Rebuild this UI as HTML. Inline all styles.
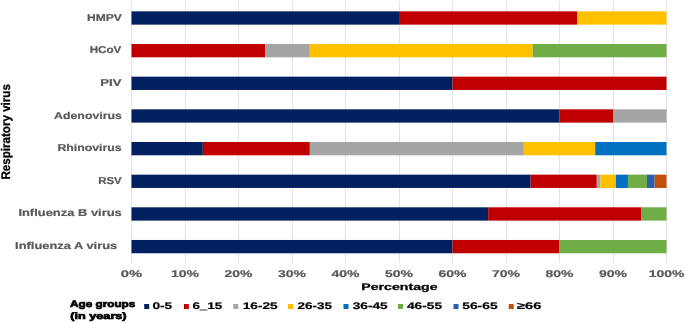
<!DOCTYPE html>
<html><head><meta charset="utf-8"><style>
html,body{margin:0;padding:0;background:#fff;width:685px;height:323px;overflow:hidden}
svg{display:block;will-change:transform}
text{font-family:"Liberation Sans",sans-serif;font-weight:bold;text-rendering:geometricPrecision}
.yl{font-size:10px;fill:#595959;stroke:#595959;stroke-width:0.2px}
.xl{font-size:9.8px;fill:#595959;stroke:#595959;stroke-width:0.2px}
.xt{font-size:9.5px;fill:#000;stroke:#000;stroke-width:0.25px}
.yt{font-size:12.5px;fill:#000;stroke:#000;stroke-width:0.3px}
.lt{font-size:9.3px;fill:#000;stroke:#000;stroke-width:0.7px}
.lg{font-size:9.6px;fill:#000;stroke:#000;stroke-width:0.2px}
</style></head><body>
<svg width="685" height="323" viewBox="0 0 685 323">
<line x1="131.50" y1="1.5" x2="131.50" y2="263" stroke="#E2E2E2" stroke-width="1"/>
<line x1="185.50" y1="1.5" x2="185.50" y2="263" stroke="#E2E2E2" stroke-width="1"/>
<line x1="238.50" y1="1.5" x2="238.50" y2="263" stroke="#E2E2E2" stroke-width="1"/>
<line x1="292.50" y1="1.5" x2="292.50" y2="263" stroke="#E2E2E2" stroke-width="1"/>
<line x1="345.50" y1="1.5" x2="345.50" y2="263" stroke="#E2E2E2" stroke-width="1"/>
<line x1="399.50" y1="1.5" x2="399.50" y2="263" stroke="#E2E2E2" stroke-width="1"/>
<line x1="452.50" y1="1.5" x2="452.50" y2="263" stroke="#E2E2E2" stroke-width="1"/>
<line x1="506.50" y1="1.5" x2="506.50" y2="263" stroke="#E2E2E2" stroke-width="1"/>
<line x1="559.50" y1="1.5" x2="559.50" y2="263" stroke="#E2E2E2" stroke-width="1"/>
<line x1="613.50" y1="1.5" x2="613.50" y2="263" stroke="#E2E2E2" stroke-width="1"/>
<line x1="666.50" y1="1.5" x2="666.50" y2="263" stroke="#E2E2E2" stroke-width="1"/>
<rect x="131.50" y="11.35" width="267.50" height="13.3" fill="#002060"/>
<rect x="399.00" y="11.35" width="178.33" height="13.3" fill="#C00000"/>
<rect x="577.33" y="11.35" width="89.17" height="13.3" fill="#FFC000"/>
<rect x="131.50" y="44.01" width="133.75" height="13.3" fill="#C00000"/>
<rect x="265.25" y="44.01" width="44.58" height="13.3" fill="#A5A5A5"/>
<rect x="309.83" y="44.01" width="222.92" height="13.3" fill="#FFC000"/>
<rect x="532.75" y="44.01" width="133.75" height="13.3" fill="#70AD47"/>
<rect x="131.50" y="76.67" width="321.00" height="13.3" fill="#002060"/>
<rect x="452.50" y="76.67" width="214.00" height="13.3" fill="#C00000"/>
<rect x="131.50" y="109.33" width="428.00" height="13.3" fill="#002060"/>
<rect x="559.50" y="109.33" width="53.50" height="13.3" fill="#C00000"/>
<rect x="613.00" y="109.33" width="53.50" height="13.3" fill="#A5A5A5"/>
<rect x="131.50" y="141.99" width="71.33" height="13.3" fill="#002060"/>
<rect x="202.83" y="141.99" width="107.00" height="13.3" fill="#C00000"/>
<rect x="309.83" y="141.99" width="214.00" height="13.3" fill="#A5A5A5"/>
<rect x="523.83" y="141.99" width="71.34" height="13.3" fill="#FFC000"/>
<rect x="595.17" y="141.99" width="71.33" height="13.3" fill="#0070C0"/>
<rect x="131.50" y="174.65" width="399.11" height="13.3" fill="#002060"/>
<rect x="530.61" y="174.65" width="66.18" height="13.3" fill="#C00000"/>
<rect x="596.79" y="174.65" width="3.53" height="13.3" fill="#A5A5A5"/>
<rect x="600.32" y="174.65" width="15.57" height="13.3" fill="#FFC000"/>
<rect x="615.89" y="174.65" width="12.04" height="13.3" fill="#0070C0"/>
<rect x="627.93" y="174.65" width="18.99" height="13.3" fill="#70AD47"/>
<rect x="646.92" y="174.65" width="7.76" height="13.3" fill="#2A60AA"/>
<rect x="654.68" y="174.65" width="11.82" height="13.3" fill="#C0500C"/>
<rect x="131.50" y="207.31" width="356.67" height="13.3" fill="#002060"/>
<rect x="488.17" y="207.31" width="152.85" height="13.3" fill="#C00000"/>
<rect x="641.02" y="207.31" width="25.48" height="13.3" fill="#70AD47"/>
<rect x="131.50" y="239.97" width="321.00" height="13.3" fill="#002060"/>
<rect x="452.50" y="239.97" width="107.00" height="13.3" fill="#C00000"/>
<rect x="559.50" y="239.97" width="107.00" height="13.3" fill="#70AD47"/>
<text x="87.00" y="20.85" textLength="34.80" lengthAdjust="spacingAndGlyphs" class="yl">HMPV</text>
<text x="89.70" y="53.42" textLength="31.70" lengthAdjust="spacingAndGlyphs" class="yl">HCoV</text>
<text x="100.30" y="85.99" textLength="21.10" lengthAdjust="spacingAndGlyphs" class="yl">PIV</text>
<text x="54.10" y="118.56" textLength="67.80" lengthAdjust="spacingAndGlyphs" class="yl">Adenovirus</text>
<text x="57.40" y="151.13" textLength="64.30" lengthAdjust="spacingAndGlyphs" class="yl">Rhinovirus</text>
<text x="98.20" y="183.70" textLength="23.50" lengthAdjust="spacingAndGlyphs" class="yl">RSV</text>
<text x="18.40" y="216.27" textLength="103.40" lengthAdjust="spacingAndGlyphs" class="yl">Influenza B virus</text>
<text x="15.10" y="248.84" textLength="102.10" lengthAdjust="spacingAndGlyphs" class="yl">Influenza A virus</text>
<text x="120.85" y="277.1" textLength="21.30" lengthAdjust="spacingAndGlyphs" class="xl">0%</text>
<text x="171.00" y="277.1" textLength="28.00" lengthAdjust="spacingAndGlyphs" class="xl">10%</text>
<text x="224.50" y="277.1" textLength="28.00" lengthAdjust="spacingAndGlyphs" class="xl">20%</text>
<text x="278.00" y="277.1" textLength="28.00" lengthAdjust="spacingAndGlyphs" class="xl">30%</text>
<text x="331.50" y="277.1" textLength="28.00" lengthAdjust="spacingAndGlyphs" class="xl">40%</text>
<text x="385.00" y="277.1" textLength="28.00" lengthAdjust="spacingAndGlyphs" class="xl">50%</text>
<text x="438.50" y="277.1" textLength="28.00" lengthAdjust="spacingAndGlyphs" class="xl">60%</text>
<text x="492.00" y="277.1" textLength="28.00" lengthAdjust="spacingAndGlyphs" class="xl">70%</text>
<text x="545.50" y="277.1" textLength="28.00" lengthAdjust="spacingAndGlyphs" class="xl">80%</text>
<text x="599.00" y="277.1" textLength="28.00" lengthAdjust="spacingAndGlyphs" class="xl">90%</text>
<text x="648.70" y="277.1" textLength="35.60" lengthAdjust="spacingAndGlyphs" class="xl">100%</text>
<text x="361.3" y="290.3" textLength="76.3" lengthAdjust="spacingAndGlyphs" class="xt">Percentage</text>
<text transform="translate(10.3,179.6) rotate(-90)" x="0" y="0" textLength="95.5" lengthAdjust="spacingAndGlyphs" class="yt">Respiratory virus</text>
<text x="70" y="306.8" textLength="65.3" lengthAdjust="spacingAndGlyphs" class="lt">Age groups</text>
<text x="70.3" y="319.2" textLength="56.3" lengthAdjust="spacingAndGlyphs" class="lt">(in years)</text>
<rect x="144.20" y="304" width="5" height="5" fill="#002060"/>
<text x="152.40" y="309.2" textLength="19.80" lengthAdjust="spacingAndGlyphs" class="lg">0-5</text>
<rect x="183.90" y="304" width="5" height="5" fill="#C00000"/>
<text x="192.40" y="309.2" textLength="29.80" lengthAdjust="spacingAndGlyphs" class="lg">6_15</text>
<rect x="233.30" y="304" width="5" height="5" fill="#A5A5A5"/>
<text x="242.70" y="309.2" textLength="35.00" lengthAdjust="spacingAndGlyphs" class="lg">16-25</text>
<rect x="288.00" y="304" width="5" height="5" fill="#FFC000"/>
<text x="297.60" y="309.2" textLength="34.40" lengthAdjust="spacingAndGlyphs" class="lg">26-35</text>
<rect x="343.50" y="304" width="5" height="5" fill="#0070C0"/>
<text x="352.70" y="309.2" textLength="35.00" lengthAdjust="spacingAndGlyphs" class="lg">36-45</text>
<rect x="398.00" y="304" width="5" height="5" fill="#70AD47"/>
<text x="407.00" y="309.2" textLength="35.00" lengthAdjust="spacingAndGlyphs" class="lg">46-55</text>
<rect x="453.50" y="304" width="5" height="5" fill="#2A60AA"/>
<text x="462.20" y="309.2" textLength="35.50" lengthAdjust="spacingAndGlyphs" class="lg">56-65</text>
<rect x="508.70" y="304" width="5" height="5" fill="#C0500C"/>
<text x="517.00" y="309.2" textLength="24.40" lengthAdjust="spacingAndGlyphs" class="lg">≥66</text>
</svg>
</body></html>
